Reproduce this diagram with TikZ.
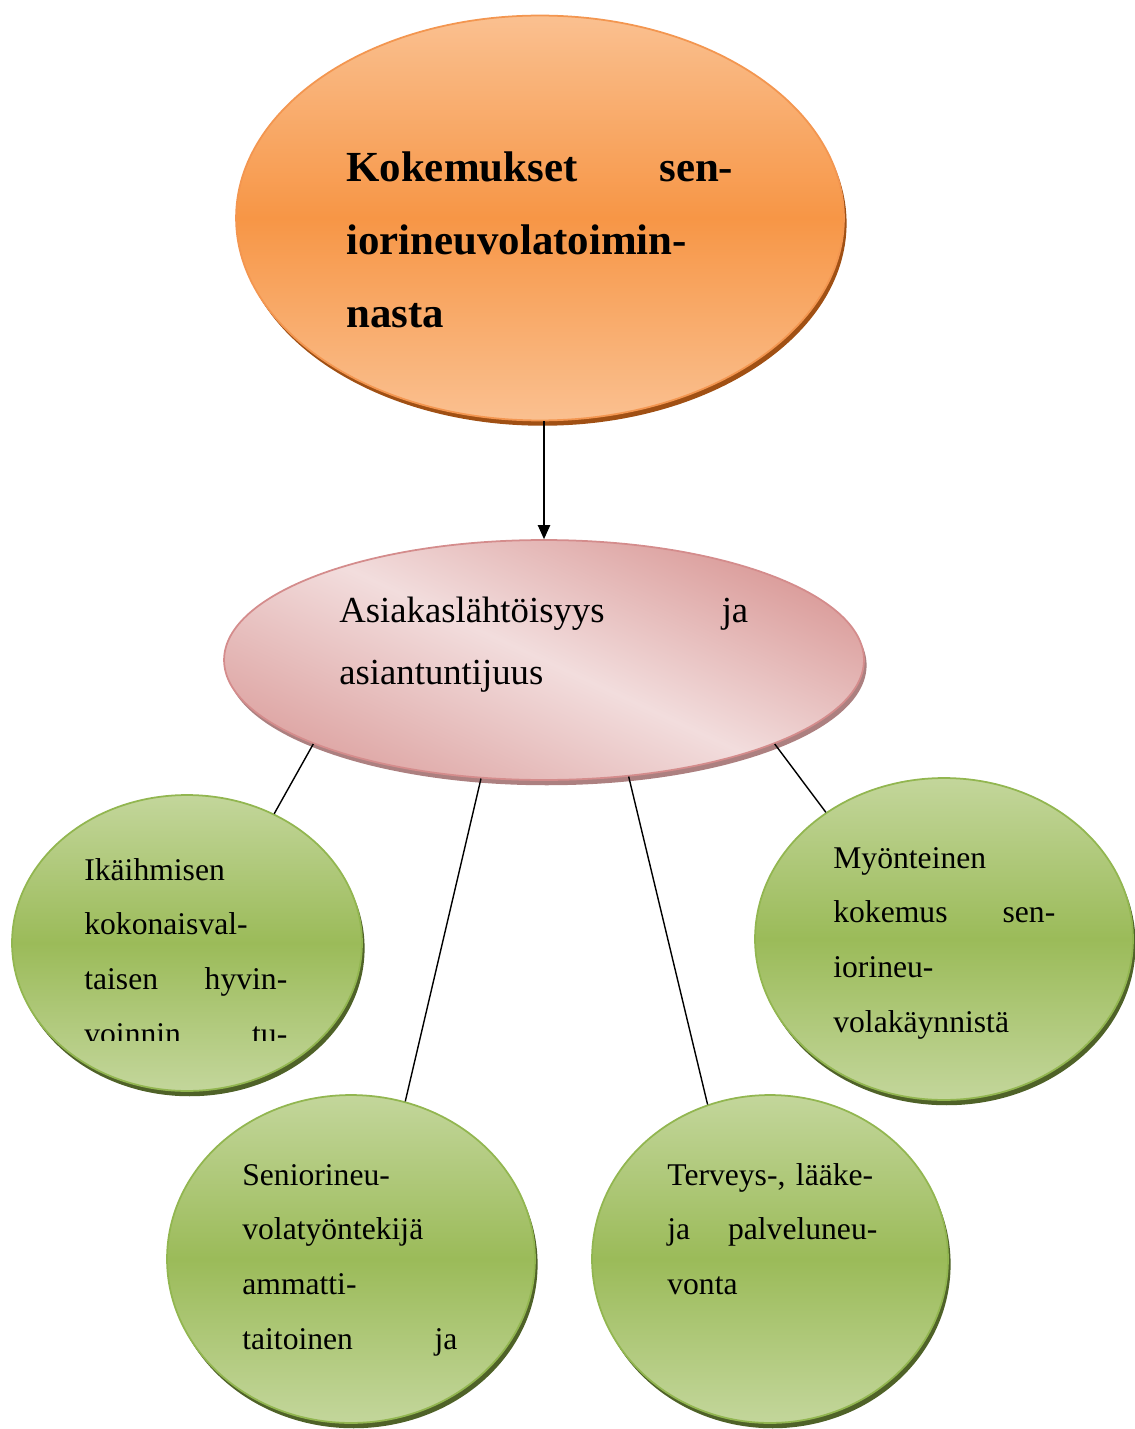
\documentclass[tikz,border=0pt]{standalone}
\usepackage{fontspec}
\setmainfont{Liberation Serif}
\usetikzlibrary{arrows.meta, shapes.geometric, shadows}

\definecolor{orangeLight}{RGB}{250,192,144}
\definecolor{orangeMid}{RGB}{247,150,70}
\definecolor{orangeEdge}{RGB}{243,150,80}
\definecolor{orangeShade}{RGB}{160,80,20}
\definecolor{roseLight}{RGB}{242,221,221}
\definecolor{roseDark}{RGB}{218,155,153}
\definecolor{roseEdge}{RGB}{212,140,140}
\definecolor{roseShade}{RGB}{172,128,128}
\definecolor{greenLight}{RGB}{195,214,155}
\definecolor{greenMid}{RGB}{155,187,89}
\definecolor{greenEdge}{RGB}{146,182,80}
\definecolor{greenShade}{RGB}{79,98,40}

\tikzset{
  bubble/.style={ellipse, inner sep=0pt, line width=1pt},
  topbubble/.style={bubble, draw=orangeEdge, top color=orangeLight, bottom color=orangeLight,
    middle color=orangeMid, drop shadow={shadow xshift=1.5pt, shadow yshift=-3pt, fill=orangeShade, opacity=1}},
  midbubble/.style={bubble, draw=roseEdge, top color=roseDark, bottom color=roseDark!85!roseLight,
    middle color=roseLight, shading angle=-25, drop shadow={shadow xshift=1.5pt, shadow yshift=-3pt, fill=roseShade, opacity=1}},
  leaf/.style={bubble, draw=greenEdge, top color=greenLight, bottom color=greenLight,
    middle color=greenMid, drop shadow={shadow xshift=1.5pt, shadow yshift=-3pt, fill=greenShade, opacity=1}},
  bubbletext/.style={anchor=base west, inner sep=0pt, align=left},
  leaftext/.style={bubbletext, font=\fontsize{18}{31.2}\selectfont},
  link/.style={line width=0.8pt}
}

\begin{document}
\begin{tikzpicture}[x=0.02cm, y=-0.02cm]
  \useasboundingbox (0,0) rectangle (1135,1429);
  % Ellipses
  \node[topbubble, minimum width=12.16cm, minimum height=8.1cm] (Top) at (540,218) {};
  \node[midbubble, minimum width=12.8cm, minimum height=4.8cm] (Mid) at (544,660) {};
  \node[leaf, minimum width=7cm, minimum height=5.92cm] (Care) at (187,943) {};
  \node[leaf, minimum width=7.56cm, minimum height=6.44cm] (Visit) at (944,939) {};
  \node[leaf, minimum width=7.36cm, minimum height=6.56cm] (Worker) at (351,1259) {};
  \node[leaf, minimum width=7.12cm, minimum height=6.56cm] (Advice) at (770,1259) {};
  % Connectors
  \draw[link, -{Triangle[width=7pt, length=8pt]}] (Top.south -| Mid.north) -- (Mid.north);
  \draw[link] (Mid.200) -- (Care.56);
  \draw[link] (Mid.242) -- (Worker.71);
  \draw[link] (Mid.306) -- (Advice.112);
  \draw[link] (Mid.340) -- (Visit.133);
  % Texts
  \node[bubbletext, text width=7.74cm, font=\fontsize{24.4}{41.4}\selectfont\bfseries] (TopText) at (346,182)
    {Kokemukset\hfill sen-\\iorineuvolatoimin-\\nasta};
  \node[bubbletext, text width=8.18cm, font=\fontsize{20.9}{35.7}\selectfont] (MidText) at (339,622)
    {Asiakaslähtöisyys\hfill ja\\asiantuntijuus};
  \begin{scope}
    \clip (0,0) rectangle (1135,1040);
    \node[leaftext, text width=4.06cm] (CareText) at (84,880)
      {Ikäihmisen\\kokonaisval-\\taisen\hfill hyvin-\\voinnin\hfill tu-};
  \end{scope}
  \node[leaftext, text width=4.44cm] (VisitText) at (833,868)
    {Myönteinen\\kokemus\hfill sen-\\iorineu-\\volakäynnistä};
  \node[leaftext, text width=4.3cm] (WorkerText) at (242,1185)
    {Seniorineu-\\volatyöntekijä\\ammatti-\\taitoinen\hfill ja};
  \node[leaftext, text width=4.2cm] (AdviceText) at (667,1185)
    {Terveys-, lääke-\\ja\hfill palveluneu-\\vonta};
\end{tikzpicture}
\end{document}
